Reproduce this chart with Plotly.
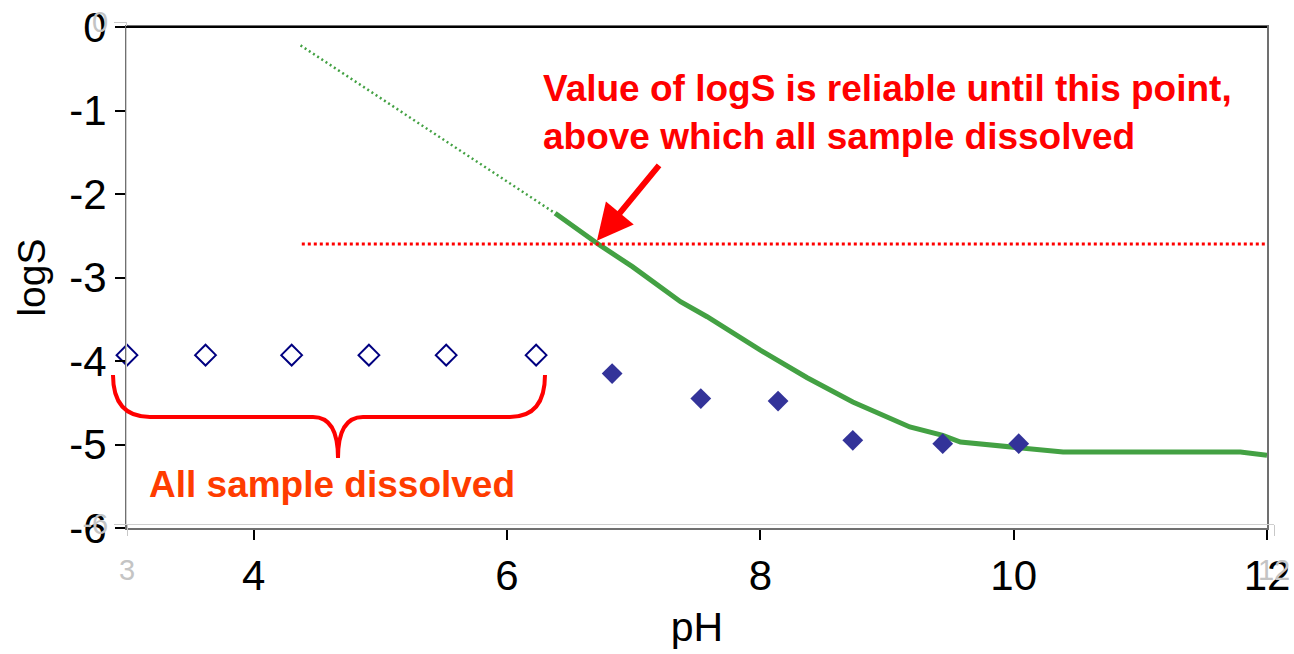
import plotly.graph_objects as go

# ---- data ----
open_ph = [3.0, 3.62, 4.30, 4.91, 5.52, 6.23]
open_logs = [-3.93, -3.93, -3.93, -3.93, -3.93, -3.93]

filled_ph = [6.83, 7.53, 8.14, 8.73, 9.44, 10.04]
filled_logs = [-4.15, -4.45, -4.48, -4.95, -4.99, -4.99]

curve_ph = [6.38, 6.73, 6.99, 7.37, 7.58, 8.00, 8.37, 8.73, 9.18, 9.44, 9.58, 10.39, 11.79, 12.0]
curve_logs = [-2.23, -2.61, -2.87, -3.29, -3.47, -3.87, -4.20, -4.49, -4.79, -4.89, -4.97, -5.09, -5.09, -5.13]

extrap_ph = [4.37, 6.38]
extrap_logs = [-0.22, -2.23]

limit_ph = [4.38, 12.0]
limit_logs = [-2.60, -2.60]

y_ticks = [0, -1, -2, -3, -4, -5, -6]
y_ticktext = ["0", "-1", "-2", "-3", "-4", "-5", "-6"]
x_ticks = [4, 6, 8, 10, 12]
x_ticktext = ["4", "6", "8", "10", "12"]

# ---- layout helpers (pixel -> paper) ----
W, H = 1294, 654
ML, MR, MT, MB = 115, 20, 20, 125
PW, PH = W - ML - MR, H - MT - MB


def px(x):
    return (x - ML) / PW


def py(y):
    return (H - MB - y) / PH


FONT = "Liberation Sans, Arial, sans-serif"
GREEN = "#43a143"

fig = go.Figure()

fig.add_trace(go.Scatter(x=extrap_ph, y=extrap_logs, mode="lines",
                         line=dict(color=GREEN, width=2.5, dash="2px,3px"),
                         showlegend=False, hoverinfo="skip"))
fig.add_trace(go.Scatter(x=curve_ph, y=curve_logs, mode="lines",
                         line=dict(color=GREEN, width=5),
                         showlegend=False))
fig.add_trace(go.Scatter(x=limit_ph, y=limit_logs, mode="lines",
                         line=dict(color="#ff0000", width=3, dash="3px,3px"),
                         showlegend=False, hoverinfo="skip"))
fig.add_trace(go.Scatter(x=open_ph, y=open_logs, mode="markers",
                         marker=dict(symbol="diamond-open", size=16, color="#000080",
                                     line=dict(color="#000080", width=2)),
                         showlegend=False, cliponaxis=False))
fig.add_trace(go.Scatter(x=filled_ph, y=filled_logs, mode="markers",
                         marker=dict(symbol="diamond", size=16, color="#333399",
                                     line=dict(width=0)),
                         showlegend=False))
# empty trace for the faint secondary frame
fig.add_trace(go.Scatter(x=[], y=[], xaxis="x2", yaxis="y2", showlegend=False))

# curly brace path (pixel coordinates converted to paper)
pts = {
    "a": (113, 375), "c1": (113, 417), "b": (150, 417), "c": (313, 417),
    "c2": (338, 417), "d": (338, 458), "c3": (338, 417), "e": (363, 417),
    "f": (510, 417), "c4": (545, 417), "g": (545, 375),
}
P = {k: (px(v[0]), py(v[1])) for k, v in pts.items()}


def s(k):
    return f"{P[k][0]:.5f},{P[k][1]:.5f}"


brace = (f"M{s('a')} Q{s('c1')} {s('b')} L{s('c')} Q{s('c2')} {s('d')} "
         f"Q{s('c3')} {s('e')} L{s('f')} Q{s('c4')} {s('g')}")

fig.update_layout(
    width=W, height=H,
    margin=dict(l=ML, r=MR, t=MT, b=MB, autoexpand=False),
    paper_bgcolor="white",
    plot_bgcolor="rgba(0,0,0,0)",
    font=dict(family=FONT, color="black"),
    xaxis=dict(domain=[px(127), px(1267)], range=[3, 12], anchor="y",
               automargin=False,
               tickvals=x_ticks, ticktext=x_ticktext,
               tickfont=dict(size=42, family=FONT),
               ticks="outside", ticklen=10, tickwidth=2, tickcolor="black",
               showline=True, linecolor="#707070", linewidth=2, mirror=True,
               showgrid=False, zeroline=False,
               title=dict(text="pH", font=dict(size=41, family=FONT), standoff=14)),
    yaxis=dict(domain=[py(528), py(27)], range=[-6, 0], anchor="x",
               automargin=False,
               tickvals=y_ticks, ticktext=y_ticktext,
               tickfont=dict(size=42, family=FONT),
               ticks="outside", ticklen=10, tickwidth=2, tickcolor="black",
               showline=True, linecolor="#707070", linewidth=2, mirror=True,
               showgrid=False, zeroline=False,
               title=dict(text="logS", font=dict(size=39, family=FONT), standoff=12)),
    xaxis2=dict(domain=[px(127), px(1274)], range=[3, 12], anchor="y2",
                automargin=False,
                tickvals=[3, 12], ticktext=["3", "12"],
                tickfont=dict(size=29, color="#c4c4c4", family=FONT),
                ticks="outside", ticklen=11, tickwidth=1, tickcolor="#c8c8c8",
                ticklabelstandoff=9,
                showline=True, linecolor="#cfcfcf", linewidth=1,
                showgrid=False, zeroline=False),
    yaxis2=dict(domain=[py(524), py(22)], range=[-6, 0], anchor="x2",
                automargin=False,
                tickvals=[0, -6], ticktext=["0", "-6"],
                tickfont=dict(size=29, color="#c4c4c4", family=FONT),
                ticks="outside", ticklen=12, tickwidth=1, tickcolor="#c8c8c8",
                showline=True, linecolor="#cfcfcf", linewidth=1,
                showgrid=False, zeroline=False),
    shapes=[
        dict(type="line", xref="paper", yref="paper",
             x0=px(126), x1=px(1267), y0=py(27), y1=py(27),
             line=dict(color="black", width=2)),
        dict(type="path", xref="paper", yref="paper", path=brace,
             line=dict(color="#ff0000", width=4)),
    ],
    annotations=[
        dict(xref="paper", yref="paper", x=px(541), y=py(112), xanchor="left",
             yanchor="middle", align="left", showarrow=False,
             text="<b>Value of logS is reliable until this point,<br>above which all sample dissolved</b>",
             font=dict(size=37, color="#ff0000", family=FONT)),
        dict(xref="paper", yref="paper", x=px(332), y=py(484), xanchor="center",
             yanchor="middle", showarrow=False,
             text="<b>All sample dissolved</b>",
             font=dict(size=37, color="#ff3c00", family=FONT)),
        dict(x=6.71, y=-2.56, ax=7.21, ay=-1.64, xref="x", yref="y",
             axref="x", ayref="y", text="", showarrow=True,
             arrowhead=2, arrowsize=1.2, arrowwidth=6, arrowcolor="#ff0000"),
    ],
)

fig.write_html("out.html")
